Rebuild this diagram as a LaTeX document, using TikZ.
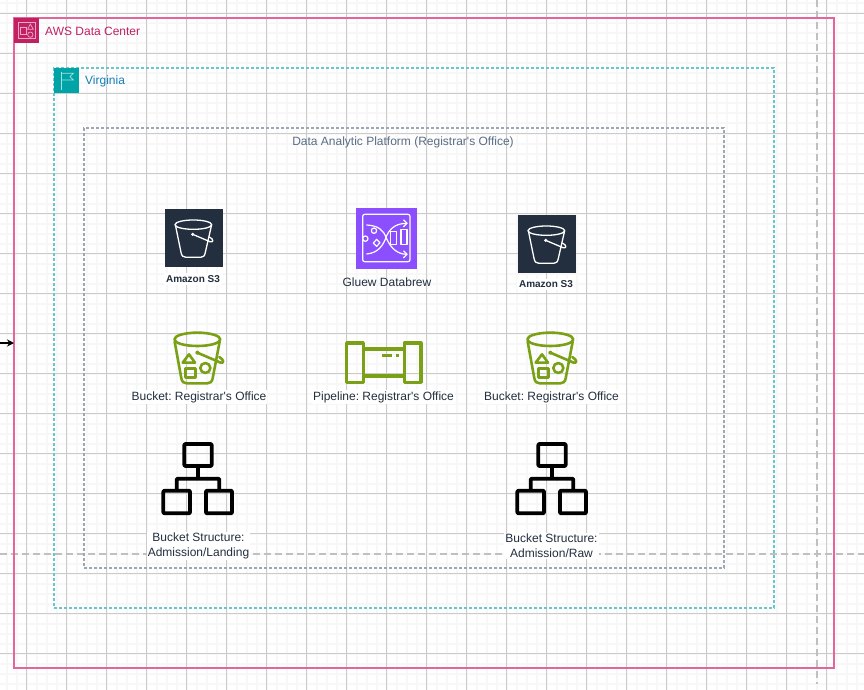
\documentclass[tikz,border=0pt]{standalone}
\usepackage{fontspec}
\setmainfont{Liberation Sans}[Ligatures=TeXOff]
\usetikzlibrary{arrows.meta}
\definecolor{awspink}{HTML}{D6246E}
\definecolor{awsteal}{HTML}{00A4A6}
\definecolor{slategray}{HTML}{5A6C86}
\definecolor{inktext}{HTML}{232F3E}
\definecolor{bucketgreen}{HTML}{7AA116}
\definecolor{gluepurple}{HTML}{8C4FFF}
\definecolor{gridmajor}{HTML}{CBCBCB}
\definecolor{gridminor}{HTML}{F7F7F7}
\definecolor{breakgray}{HTML}{C0C0C0}
\definecolor{virginiablue}{HTML}{147EBA}
\tikzset{
  zoomed/.style={x=.33333pt,y=-.33333pt},
  container/.style={anchor=north west,inner sep=0pt,outer sep=0pt},
  lbl/.style={font=\fontsize{12}{15}\selectfont\frenchspacing,text=inktext,align=center,inner sep=1pt,fill=white},
  s3lbl/.style={font=\fontsize{10}{11}\selectfont\bfseries,text=inktext,inner sep=2pt,fill=white},
  pics/sthree/.style={code={
    \begin{scope}[zoomed]
      \fill[inktext] (45,42) rectangle (219,217);
      \begin{scope}[draw=white,line width=1.3pt,line join=round,line cap=round]
        \draw (130,89) ellipse [x radius=55,y radius=14];
        \draw (76,89) -- (93,172) .. controls (95,183) and (100,187) .. (108,187) -- (152,187) .. controls (160,187) and (164,183) .. (166,172) -- (185,89);
        \draw (128,118) -- (180,140) .. controls (191,144) and (192,132) .. (178,126);
        \fill[white] (128,118) circle (5);
      \end{scope}
    \end{scope}}},
  pics/greenbucket/.style={code={
    \begin{scope}[zoomed,draw=bucketgreen,line width=2.6pt,line join=round,line cap=round]
      \draw (142,433) ellipse [x radius=69,y radius=20];
      \draw (74,440) -- (94,550) .. controls (96,561) and (102,565) .. (110,565) -- (172,565) .. controls (180,565) and (186,561) .. (188,550) -- (209,440);
      \draw (142,473) -- (212,503) .. controls (223,506) and (222,494) .. (208,486);
      \fill[bucketgreen] (142,473) circle (6);
      \draw (117,478) -- (98,503) -- (135,503) -- cycle;
      \draw (107,520) rectangle (137,548);
      \draw (166,519) circle (15);
    \end{scope}}},
  pics/pipeicon/.style={code={
    \begin{scope}[zoomed,draw=bucketgreen,line width=3.2pt,line join=round]
      \draw (590,444) rectangle (640,562);
      \draw (763,444) rectangle (813,562);
      \draw (640,462) -- (763,462);
      \draw (640,543) -- (763,543);
      \draw (697,482) -- (725,482);
      \draw (738,482) -- (748,482);
    \end{scope}}},
  pics/treeicon/.style={code={
    \begin{scope}[zoomed,draw=black,line width=3.8pt,line join=round]
      \draw[rounded corners=1pt] (163,42) rectangle (245,108);
      \draw[rounded corners=1pt] (100,182) rectangle (180,250);
      \draw[rounded corners=1pt] (228,182) rectangle (306,250);
      \draw (204,108) -- (204,146);
      \draw[rounded corners=1pt] (140,182) -- (140,146) -- (268,146) -- (268,182);
    \end{scope}}}
}
\begin{document}
\begin{tikzpicture}[x=1pt,y=-1pt]
\useasboundingbox (0,0) rectangle (864,690);
\fill[white] (0,0) rectangle (864,690);
% background grid
\foreach \gx in {6.5,16.5,...,864} \draw[gridminor,line width=2pt] (\gx,0) -- (\gx,690);
\foreach \gy in {3.5,13.5,...,690} \draw[gridminor,line width=2pt] (0,\gy) -- (864,\gy);
\foreach \gx in {26.5,66.5,...,864} \draw[gridmajor,line width=1pt] (\gx,0) -- (\gx,690);
\foreach \gy in {13.5,53.5,...,690} \draw[gridmajor,line width=1pt] (0,\gy) -- (864,\gy);
% page breaks
\draw[breakgray,line width=1.8pt,dash pattern=on 7pt off 4pt] (817,0) -- (817,684);
\draw[breakgray,line width=1.8pt,dash pattern=on 7pt off 4pt] (0,554) -- (864,554);
% containers
\node[container,draw=awspink!70,line width=1.3pt,minimum width=820pt,minimum height=650pt] (aws) at (14,18) {};
\node[container,draw=awsteal!60,line width=1.1pt,dash pattern=on 3pt off 2pt,minimum width=720pt,minimum height=540pt] (virginia) at (54,68) {};
\node[container,draw=slategray!60,line width=1.1pt,dash pattern=on 3pt off 2pt,minimum width=640pt,minimum height=440pt] (platform) at (84,128) {};
% group icons
\fill[awspink!90!black] (14,18) rectangle (39,43);
\begin{scope}[zoomed,draw=white!60!awspink,line width=.7pt]
  \draw (55,68) rectangle (105,115);
  \draw (62,82) rectangle (78,102);
  \draw (91,72) -- (83,88) -- (100,88) -- cycle;
  \draw (91,104) circle (8);
\end{scope}
\fill[awsteal] (54,68) rectangle (79,93);
\begin{scope}[zoomed,draw=white!65!awsteal,line width=.8pt]
  \draw (185,215) -- (185,270);
  \draw (185,220) -- (220,220) -- (210,230) -- (220,240) -- (185,240);
\end{scope}
\node[anchor=west,inner sep=0pt,font=\fontsize{12}{14}\selectfont,text=awspink!90!black] (awslabel) at (45,31) {AWS Data Center};
\node[anchor=west,inner sep=0pt,font=\fontsize{12}{14}\selectfont,text=virginiablue] (virginialabel) at (85,81.5) {Virginia};
\node[inner sep=0pt,font=\fontsize{12}{14}\selectfont\frenchspacing,text=slategray] (platformlabel) at (403,142) {Data Analytic Platform (Registrar's Office)};
% S3
\pic at (150,195) {sthree};
\pic at (503,201) {sthree};
\node[s3lbl] (s3a) at (193,279) {Amazon S3};
\node[s3lbl] (s3b) at (546,284.5) {Amazon S3};
% Glue
\fill[gluepurple] (356,208) rectangle (417,269);
\begin{scope}[shift={(150,195)},zoomed,draw=white,line width=1.2pt,line cap=round,line join=round]
  \draw[rounded corners=2pt] (638,58) rectangle (780,200);
  \draw (650,177) .. controls (685,174) and (700,150) .. (708,127) .. controls (718,102) and (735,85) .. (771,85);
  \draw (650,90) .. controls (685,92) and (700,105) .. (708,127) .. controls (718,150) and (735,178) .. (771,178);
  \draw (761,75) -- (771,85) -- (761,95);
  \draw (761,168) -- (771,178) -- (761,188);
  \draw (646,131) circle (8);
  \draw (672,107) circle (8);
  \draw (680,133) -- (690,143) -- (680,154) -- (670,144) -- cycle;
  \draw (722,110) rectangle (740,148);
  \draw (753,103) rectangle (771,148);
\end{scope}
\node[lbl,fill=none] (gluelabel) at (387,282) {Gluew Databrew};
% Buckets and pipeline
\pic at (150,195) {greenbucket};
\pic at (503,195) {greenbucket};
\pic at (150,195) {pipeicon};
\node[lbl] (bucketa) at (199,397) {Bucket: Registrar's Office};
\node[lbl] (pipeline) at (383.5,397) {Pipeline: Registrar's Office};
\node[lbl] (bucketb) at (551.5,397) {Bucket: Registrar's Office};
% Structures
\pic at (130,430) {treeicon};
\pic at (484,430) {treeicon};
\node[lbl] (structa) at (198.5,545.7) {Bucket Structure:\\Admission/Landing};
\node[lbl] (structb) at (551.5,545.7) {Bucket Structure:\\Admission/Raw};
% incoming arrow
\coordinate (incoming) at (0,343);
\draw[-{Stealth[length=7pt,width=7pt]},black,line width=1.2pt] (incoming) -- (aws.west);
\end{tikzpicture}
\end{document}
